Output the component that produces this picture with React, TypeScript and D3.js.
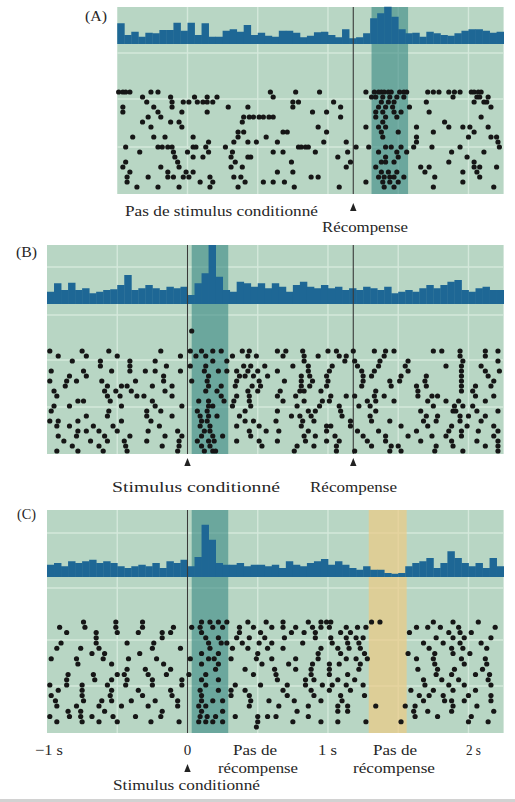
import React from 'react';
import * as d3 from 'd3';

// ---------- data ----------
const BIN = 0.05; // s
const histA = [8.3,3.6,4.9,2.9,4.5,4.3,5.6,5.6,8.5,5.3,8.5,3.6,8.3,2.9,2.9,5.3,5.9,4.9,7.6,3.6,4.5,3.3,2.9,5.3,5.3,4.5,2.7,3.3,4.7,4.9,3.6,2.7,5.9,2.3,2.7,4.3,10.3,12.3,14.9,10.9,5.9,4.3,4.5,2.9,4.9,4.3,3.6,3.3,4.3,5.3,5.9,5.9,5.3,4.5,4.9];
const histB = [4.9,8.3,5.6,8.5,5.6,6.3,4.3,4.9,5.6,5.9,7.6,11.6,5.6,6.3,7.6,6.3,5.6,6.9,6.3,6.9,3.6,8.3,12.3,23.6,10.9,5.6,4.9,8.9,8.3,6.9,8.3,6.3,8.3,6.9,4.9,7.6,8.9,6.9,6.3,7.6,6.3,6.9,5.6,6.3,5.6,6.9,6.3,5.6,6.9,4.3,4.9,5.6,4.9,6.3,7.6,6.3,7.6,8.9,9.6,5.6,4.9,6.3,6.9,5.6,5.6];
const histC = [4.9,5.6,4.3,6.3,5.6,6.3,6.9,5.6,6.3,5.6,4.3,3.6,4.3,4.9,4.3,5.6,3.6,6.3,5.6,6.9,4.3,8.0,20.9,14.9,5.6,4.9,4.9,5.6,4.3,4.9,4.9,4.3,4.9,3.6,6.3,4.9,4.3,5.6,6.3,7.2,4.9,6.3,4.9,3.6,2.9,4.3,2.9,2.9,1.6,1.3,1.6,4.3,5.6,6.3,7.6,3.6,5.6,10.3,7.6,5.6,4.3,5.6,3.6,7.6,4.3];

const rasterA: number[][] = [
  [-0.49,-0.46,-0.44,-0.41,-0.26,-0.21,0.59,0.77,0.94,1.27,1.33,1.36,1.38,1.40,1.43,1.45,1.51,1.54,1.56,1.71,1.75,1.79,1.86,1.90,1.94,2.02,2.04,2.07,2.09],
  [-0.32,-0.12,0.05,0.14,0.21,0.61,1.31,1.34,1.39,1.44,1.49,1.54,1.89,2.06,2.08,2.14],
  [-0.29,-0.11,-0.03,0.01,0.07,0.11,0.14,0.18,0.75,0.79,1.04,1.38,1.43,1.47,1.70,2.04,2.11,2.13],
  [-0.46,-0.24,-0.11,0.29,0.43,0.75,1.09,1.36,1.41,1.46,1.58,2.16],
  [-0.46,-0.21,-0.04,0.14,0.89,0.99,1.34,1.39,1.47,1.52,1.72],
  [-0.28,-0.19,0.40,0.44,0.47,0.51,0.54,0.58,0.61,1.09,1.34,1.41,1.49,2.09],
  [-0.32,-0.12,-0.06,0.39,1.39,1.83],
  [-0.26,-0.04,0.93,1.27,1.36,1.41,1.63,1.86,1.96,2.01,2.14],
  [0.36,0.40,0.68,0.71,0.99,1.38,1.50,1.75,2.04],
  [-0.39,-0.24,-0.16,0.04,0.36,0.56,1.39,1.63,2.00,2.16,2.20],
  [0.15,0.33,0.43,0.49,0.64,0.97,1.13,1.63,2.21],
  [-0.44,-0.21,-0.18,-0.14,-0.11,0.04,0.06,0.13,0.27,0.79,0.81,0.84,0.86,1.20,1.29,1.41,1.45,1.52,1.61,1.74,1.94,2.22],
  [-0.34,-0.10,0,0.15,0.32,0.61,0.68,0.91,1.14,1.36,1.49,1.56,1.88,2.11],
  [-0.09,0.04,0.11,0.31,0.43,0.45,1.07,1.41,1.50,1.99],
  [-0.44,-0.07,0.34,0.74,1.16,1.38,1.41,1.47,1.86,2.04],
  [-0.46,-0.19,-0.06,0.31,0.39,1.13,1.34,1.66,1.72,2.04,2.08,2.20],
  [-0.41,-0.14,-0.01,0.04,0.64,0.75,1.38,1.43,1.49,1.69,1.96,2.06],
  [-0.43,-0.28,-0.14,-0.10,-0.03,0.01,0.16,0.33,0.38,0.88,0.93,1.36,1.40,1.44,1.47,1.54,1.76,2.08],
  [-0.43,0.09,0.18,0.41,0.54,0.61,0.69,1.27,1.39,1.44,1.50,1.96],
  [-0.36,-0.21,-0.06,0.16,0.36,0.76,1.08,1.40,1.47,1.75,2.18],
];

const rasterB: number[][] = [
  [0.03],
  [],
  [],
  [],
  [-0.98,-0.75,-0.56,-0.19,0.02,0.10,0.18,0.24,0.39,0.44,0.64,0.70,0.82,1.00,1.06,1.18,1.33,1.41,1.47,1.75,1.81,1.94,2.12,2.21],
  [-0.92,-0.72,-0.50,-0.05,0.06,0.13,0.32,0.43,0.49,0.68,0.83,0.93,1.08,1.13,1.40,1.94,2.12],
  [-0.82,-0.62,-0.41,-0.23,0.18,0.28,0.83,1.12,1.19,1.37,1.57,1.96,2.21],
  [-0.62,-0.41,-0.15,0.02,0.13,0.40,0.45,0.55,0.75,0.86,1.03,1.21,1.36,1.55,1.84,1.95,2.09],
  [-0.97,-0.74,-0.54,-0.41,-0.30,-0.23,-0.05,0.12,0.22,0.28,0.35,0.43,0.50,0.64,0.86,1.01,1.24,1.33,1.57,1.95,2.12,2.22],
  [-0.84,-0.72,-0.17,0.15,0.37,0.41,0.47,0.57,0.81,0.87,0.99,1.25,1.31,1.52,1.70,1.95,2.14],
  [-0.98,-0.86,-0.79,-0.61,-0.37,-0.17,0.03,0.14,0.35,0.51,0.69,0.81,0.89,1.00,1.25,1.44,1.51,1.69,1.95,2.18],
  [-0.87,-0.57,-0.47,-0.43,-0.25,-0.11,0.15,0.24,0.34,0.46,0.52,0.81,0.87,0.99,1.24,1.45,1.63,1.70,1.95,2.05,2.16],
  [-0.95,-0.59,-0.51,-0.40,-0.16,0.13,0.21,0.43,0.50,0.66,0.80,0.83,0.95,1.34,1.64,1.95,2.03],
  [-0.93,-0.57,-0.48,-0.36,-0.31,-0.11,0.24,0.35,0.44,0.64,0.77,1.02,1.13,1.19,1.33,1.40,1.64,1.74,1.78,2.05,2.18],
  [-0.78,-0.74,-0.55,-0.25,0.08,0.15,0.26,0.33,0.44,0.68,0.83,0.96,1.01,1.28,1.34,1.47,1.71,1.84,1.93,2.12],
  [-0.95,-0.84,-0.47,-0.23,-0.04,0.15,0.18,0.32,0.45,0.78,0.94,1.08,1.22,1.30,1.75,1.90,1.96,2.03],
  [-0.97,-0.56,-0.29,-0.19,0.07,0.14,0.41,0.64,0.86,0.91,1.09,1.34,1.66,1.89,1.91,2.06,2.21],
  [-0.72,-0.57,-0.29,-0.11,0.09,0.15,0.21,0.37,0.74,0.80,0.88,1.10,1.30,1.70,1.78,1.94,2.00,2.12],
  [-0.98,-0.92,-0.78,-0.47,-0.26,0.10,0.14,0.41,0.47,0.63,0.82,0.90,1.16,1.31,1.44,1.68,1.77,1.94,2.09],
  [-0.93,-0.84,-0.67,-0.53,-0.20,0.09,0.16,0.35,0.51,0.81,0.99,1.02,1.16,1.52,1.71,1.88,1.99,2.18],
  [-0.78,-0.72,-0.63,-0.50,-0.28,-0.07,0.12,0.16,0.44,0.56,0.65,0.86,0.99,1.21,1.36,1.63,1.86,1.95,2.07,2.21],
  [-0.92,-0.79,-0.59,-0.41,-0.16,-0.04,0.10,0.18,0.25,0.45,0.83,0.91,1.05,1.25,1.41,1.57,1.74,1.84,1.95,2.18],
  [-0.88,-0.69,-0.57,-0.45,-0.29,-0.06,0.07,0.15,0.19,0.35,0.51,0.64,0.84,0.99,1.08,1.28,1.41,1.66,1.88,2.06,2.21],
  [-0.82,-0.63,-0.44,-0.18,-0.06,0.10,0.16,0.53,0.78,0.90,1.06,1.31,1.45,1.50,1.77,1.89,2.12,2.21],
  [-0.93,-0.78,-0.60,-0.43,-0.07,0.12,0.18,0.20,0.76,1.06,1.19,1.44,1.52,1.76,1.96,2.21],
];

const rasterC: number[][] = [
  [-0.74,-0.51,-0.32,0.10,0.16,0.22,0.28,0.43,0.56,0.68,0.86,0.95,0.99,1.02,1.31,1.37,1.75,1.89,2.07],
  [-0.91,-0.73,-0.51,-0.32,-0.10,0.03,0.09,0.18,0.25,0.37,0.47,0.60,0.68,0.77,0.89,0.95,1.01,1.13,1.21,1.27,1.63,1.71,1.80,1.93,2.19],
  [-0.86,-0.65,-0.50,-0.35,-0.18,-0.12,0.10,0.37,0.52,0.74,0.83,0.91,1.09,1.16,1.58,1.86,1.94,2.02],
  [-0.65,-0.18,0.13,0.22,0.35,0.44,0.55,0.69,0.91,1.02,1.13,1.20,1.25,1.77,1.89,1.97,2.16],
  [-0.90,-0.65,-0.43,-0.24,0.15,0.24,0.28,0.39,0.51,0.60,0.82,1.03,1.14,1.22,1.68,1.82,1.94,2.09],
  [-0.93,-0.76,-0.63,-0.25,-0.05,0.16,0.32,0.43,0.57,0.68,0.95,1.07,1.15,1.23,1.72,1.88,1.96,2.13],
  [-0.68,-0.59,-0.34,0.10,0.22,0.50,0.93,1.09,1.26,1.57,1.76,1.89,2.01],
  [-0.97,-0.79,-0.60,-0.42,-0.22,0.02,0.15,0.19,0.31,0.49,0.60,0.77,0.93,1.13,1.20,1.28,1.63,1.75,1.95,2.12],
  [-0.78,-0.54,-0.17,0.10,0.22,0.53,0.72,0.89,1.01,1.08,1.23,1.76,1.97,2.13],
  [-0.43,-0.30,-0.12,0.20,0.41,0.62,0.77,0.88,1.01,1.22,1.64,1.78,1.90,2.10],
  [-0.85,-0.67,-0.50,-0.45,-0.28,-0.15,0.01,0.13,0.47,0.63,0.88,1.01,1.14,1.77,1.88,2.05,2.15],
  [-0.86,-0.66,-0.54,-0.43,-0.25,-0.04,0.10,0.22,0.64,0.84,0.90,1.07,1.19,1.68,1.81,1.93,2.14],
  [-0.98,-0.86,-0.75,-0.57,-0.44,-0.25,-0.04,0.13,0.34,0.52,0.71,0.84,0.96,1.03,1.13,1.25,1.69,1.86,1.97,2.16],
  [-0.92,-0.75,-0.54,-0.35,-0.12,0.09,0.22,0.31,0.41,0.68,0.88,1.01,1.16,1.59,1.75,1.89,2.05],
  [-0.97,-0.75,-0.55,-0.32,-0.11,0.10,0.31,0.44,0.71,0.90,1.09,1.26,1.65,1.72,1.82,2.00,2.16],
  [-0.94,-0.74,-0.61,-0.54,-0.40,-0.23,-0.07,0.10,0.18,0.25,0.45,0.58,0.76,0.95,1.10,1.68,1.83,1.88,1.97,2.16],
  [-0.93,-0.79,-0.63,-0.47,-0.28,-0.07,0.08,0.13,0.44,0.65,0.86,1.07,1.14,1.34,1.55,1.62,1.89,2.06],
  [-0.85,-0.76,-0.59,-0.18,0.10,0.25,0.78,1.07,1.14,1.61,1.71,1.88,2.18],
  [-0.98,-0.84,-0.76,-0.68,-0.53,-0.37,-0.19,0.09,0.14,0.20,0.34,0.50,0.57,0.63,0.86,1.62,1.78,2.02],
  [-0.93,-0.75,-0.63,-0.50,-0.26,-0.06,0.08,0.13,0.18,0.25,0.50,0.75,0.95,1.07,1.27,1.52,2.00,2.14],
  [0.49],
];

const bandA = [1.31, 1.57];
const bandB = [0.03, 0.29];
const bandC = [0.03, 0.29];
const noRewardC = [1.29, 1.56];
const markersA = [1.18];
const markersB = [0, 1.18];
const markersC = [0];
const gridTimes = [-0.5, 0, 0.5, 1, 1.5, 2];
const tickValues = [-1, 0, 1, 2];
const tickLabels = ['\u22121 s', '0', '1 s', '2 s'];

// ---------- styles ----------
const C_BG = '#b8d6c4';
const C_GRID = '#d4e8db';
const C_BAND = '#3c8a84';
const C_YEL = '#eccb84';
const C_HIST = '#1e6795';
const C_DOT = '#161616';
const C_MARK = '#3a3a3a';
const C_TEXT = '#262626';
const FONT = 'Liberation Serif, serif';

const x = d3.scaleLinear().domain([-1, 2.25]).range([47, 503.6]);

type PanelProps = {
  t0: number;
  top: number;
  bottom: number;
  base: number;
  hist: number[];
  raster: number[][];
  rowTop: number;
  rowBottom: number;
  bands: { range: number[]; color: string; op: number }[];
  markers: number[];
  hGrid: number[];
};

function Panel(p: PanelProps) {
  const x0 = x(p.t0);
  const x1 = x(2.25);
  const yH = d3.scaleLinear().domain([0, 24]).range([p.base, p.base - 60]);
  const yR = d3.scaleLinear().domain([0, p.raster.length - 1]).range([p.rowTop, p.rowBottom]);
  return (
    <g>
      <rect x={x0} y={p.top} width={x1 - x0} height={p.bottom - p.top} fill={C_BG} />
      {gridTimes.filter((t) => t > p.t0 + 0.01).map((t) => (
        <line key={'v' + t} x1={x(t)} x2={x(t)} y1={p.top} y2={p.bottom} stroke={C_GRID} strokeWidth={1.4} />
      ))}
      {p.hGrid.map((o) => (
        <line key={'h' + o} x1={x0} x2={x1} y1={p.top + o} y2={p.top + o} stroke={C_GRID} strokeWidth={1.4} />
      ))}
      {p.bands.map((b, i) => (
        <rect key={'b' + i} x={x(b.range[0])} y={p.top} width={x(b.range[1]) - x(b.range[0])} height={p.bottom - p.top} fill={b.color} opacity={b.op} />
      ))}
      {p.hist.map((v, i) => {
        const a = x(p.t0 + i * BIN);
        const b = x(p.t0 + (i + 1) * BIN);
        return <rect key={'h' + i} x={a} y={yH(v)} width={b - a + 0.4} height={p.base - yH(v)} fill={C_HIST} />;
      })}
      {p.markers.map((t) => (
        <line key={'m' + t} x1={x(t)} x2={x(t)} y1={p.top} y2={p.bottom} stroke={C_MARK} strokeWidth={1.1} />
      ))}
      {p.raster.map((row, r) =>
        row.map((t, j) => <circle key={r + '-' + j} cx={x(t)} cy={yR(r)} r={2.6} fill={C_DOT} />)
      )}
    </g>
  );
}

function Arrow({ t, y }: { t: number; y: number }) {
  const cx = x(t);
  return <path d={`M${cx - 3.2},${y + 8} L${cx},${y} L${cx + 3.2},${y + 8} Z`} fill="#222" />;
}

function Txt(props: { x: number; y: number; anchor?: string; len?: number; children: React.ReactNode }) {
  const extra = props.len ? { textLength: props.len, lengthAdjust: 'spacingAndGlyphs' } : {};
  return (
    <text x={props.x} y={props.y} textAnchor={props.anchor || 'start'} fontFamily={FONT} fontSize={15} fill={C_TEXT} {...extra}>
      {props.children}
    </text>
  );
}

export default function App() {
  return (
    <svg width={515} height={802} style={{ position: 'absolute', left: 0, top: 0, background: '#fff' }}>
      {/* Panel A */}
      <Panel t0={-0.5} top={7} bottom={194} base={44} hist={histA} raster={rasterA} rowTop={92} rowBottom={187}
        bands={[{ range: bandA, color: C_BAND, op: 0.62 }]} markers={markersA} hGrid={[46, 92, 140]} />
      <Txt x={85} y={21} len={22}>(A)</Txt>
      <Txt x={125} y={216} len={193}>Pas de stimulus conditionné</Txt>
      <Arrow t={markersA[0]} y={203} />
      <Txt x={322} y={232} len={86}>Récompense</Txt>

      {/* Panel B */}
      <Panel t0={-1} top={245} bottom={454} base={304} hist={histB} raster={rasterB} rowTop={331} rowBottom={451}
        bands={[{ range: bandB, color: C_BAND, op: 0.62 }]} markers={markersB} hGrid={[22, 70, 115, 162]} />
      <Txt x={16} y={257} len={21}>(B)</Txt>
      <Arrow t={markersB[0]} y={458} />
      <Arrow t={markersB[1]} y={458} />
      <Txt x={112} y={492} len={168}>Stimulus conditionné</Txt>
      <Txt x={310} y={492} len={87}>Récompense</Txt>

      {/* Panel C */}
      <Panel t0={-1} top={510} bottom={733} base={577} hist={histC} raster={rasterC} rowTop={622} rowBottom={727}
        bands={[{ range: bandC, color: C_BAND, op: 0.62 }, { range: noRewardC, color: C_YEL, op: 0.7 }]}
        markers={markersC} hGrid={[23, 78, 130, 176]} />
      <Txt x={17} y={519} len={19}>(C)</Txt>
      <Txt x={35} y={755} len={28}>{tickLabels[0]}</Txt>
      <Txt x={x(tickValues[1])} y={755} anchor="middle">{tickLabels[1]}</Txt>
      <Txt x={318} y={755} len={19}>{tickLabels[2]}</Txt>
      <Txt x={466} y={755} len={15}>{tickLabels[3]}</Txt>
      <Txt x={233} y={755} len={44}>Pas de</Txt>
      <Txt x={218} y={773} len={80}>récompense</Txt>
      <Txt x={373} y={755} len={44}>Pas de</Txt>
      <Txt x={353} y={773} len={82}>récompense</Txt>
      <Arrow t={markersC[0]} y={764} />
      <Txt x={113} y={790} len={147}>Stimulus conditionné</Txt>

      <rect x={0} y={799} width={515} height={3} fill="#d2d2d2" />
    </svg>
  );
}
